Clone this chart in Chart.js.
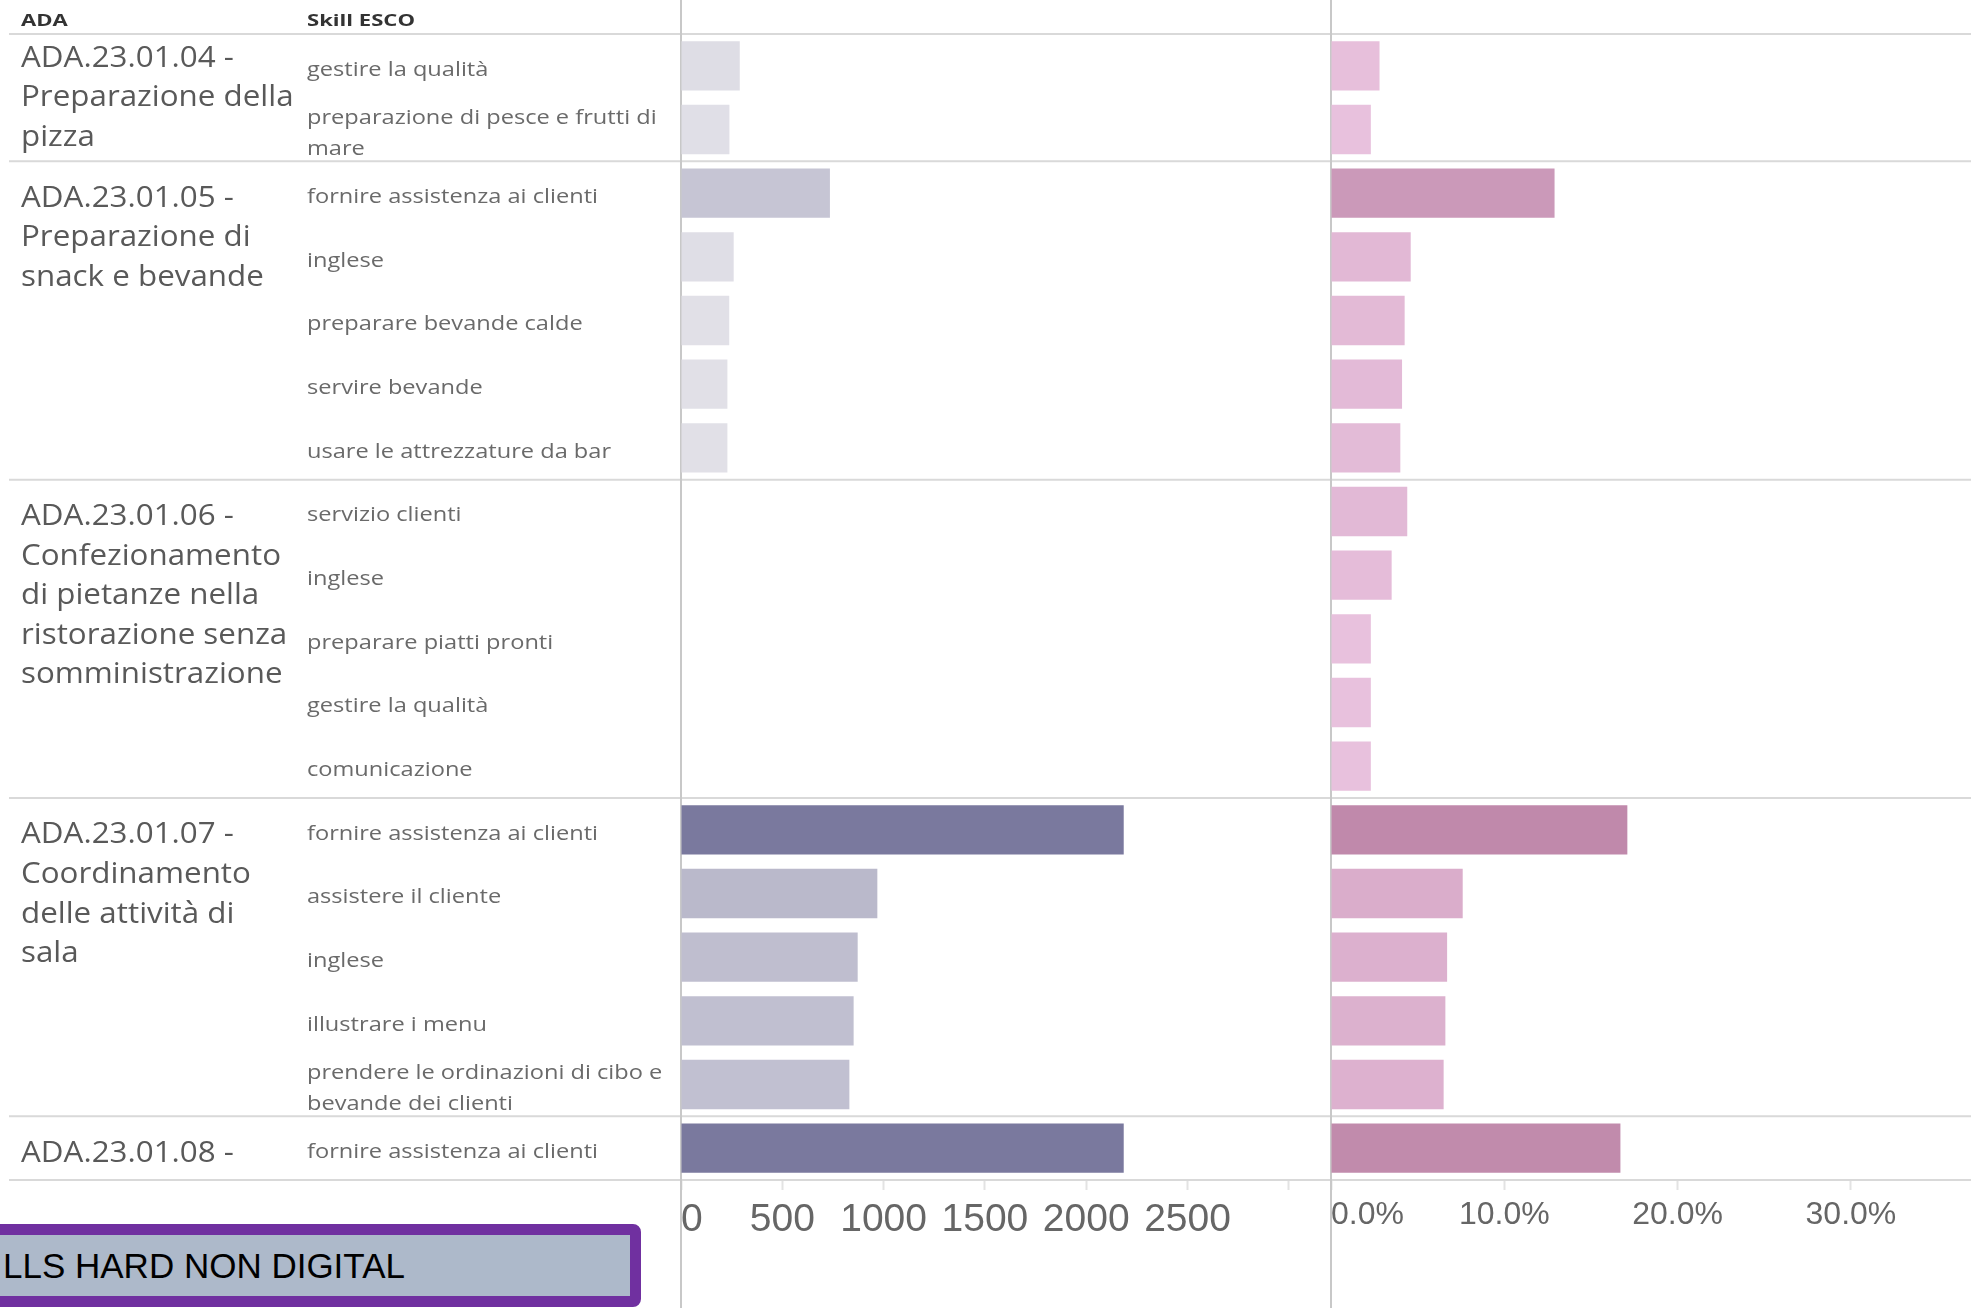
<!DOCTYPE html>
<html>
<head>
<meta charset="utf-8">
<script src="https://cdn.jsdelivr.net/npm/chart.js@4.4.1/dist/chart.umd.min.js"></script>
<style>
html, body { margin: 0; padding: 0; background: #fff; overflow: hidden; }
#wrap { position: relative; width: 1971px; height: 1308px; }
#skillsChart { position: absolute; left: 0; top: 0; }
.tag {
    position: absolute; left: -20px; top: 1224px; width: 661px; height: 83px;
    box-sizing: border-box; border: 11px solid #7030a0; border-radius: 8px;
    background: #adb9ca; color: #000; white-space: nowrap;
    font: 35px "Liberation Sans", Arial, sans-serif; line-height: 61px; padding-left: 12px;
}
</style>
</head>
<body>
<div id="wrap">
    <canvas id="skillsChart" width="1971" height="1308"></canvas>
    <div class="tag">LLS HARD NON DIGITAL</div>
</div>
<script>

// ADA groups (text lines as in the table) and how many skill rows each one has
const adaGroups = [
    ['ADA.23.01.04 -', 'Preparazione della', 'pizza'],
    ['ADA.23.01.05 -', 'Preparazione di', 'snack e bevande'],
    ['ADA.23.01.06 -', 'Confezionamento', 'di pietanze nella', 'ristorazione senza', 'somministrazione'],
    ['ADA.23.01.07 -', 'Coordinamento', 'delle attività di', 'sala'],
    ['ADA.23.01.08 -']
]
const adaRowCounts = [2, 5, 5, 5, 1]

const skills = [
    'gestire la qualità',
    'preparazione di pesce e frutti di\nmare',
    'fornire assistenza ai clienti',
    'inglese',
    'preparare bevande calde',
    'servire bevande',
    'usare le attrezzature da bar',
    'servizio clienti',
    'inglese',
    'preparare piatti pronti',
    'gestire la qualità',
    'comunicazione',
    'fornire assistenza ai clienti',
    'assistere il cliente',
    'inglese',
    'illustrare i menu',
    'prendere le ordinazioni di cibo e\nbevande dei clienti',
    'fornire assistenza ai clienti'
]

// left pane: number of ads, right pane: share in %
const skillCounts = [290, 239, 735, 260, 238, 229, 229, null, null, null, null, null, 2185, 969, 872, 852, 831, 2185]
const skillShares = [2.8, 2.3, 12.9, 4.6, 4.25, 4.1, 4.0, 4.4, 3.5, 2.3, 2.3, 2.3, 17.1, 7.6, 6.7, 6.6, 6.5, 16.7]

const countTicks = [0, 500, 1000, 1500, 2000, 2500, 3000]
const countTickLabels = ['0', '500', '1000', '1500', '2000', '2500', '']
const shareTicks = [0, 10, 20, 30]
const shareTickLabels = ['0.0%', '10.0%', '20.0%', '30.0%']

const countMax = 3208
const shareMax = 36.93


// colour ramp by value \\
function shade(values, light, dark) {
    const vals = values.filter(v => v != null);
    const lo = Math.min(...vals);
    const hi = Math.max(...vals);
    return values.map(v => {
        if (v == null) return 'rgba(0,0,0,0)';
        const t = (v - lo) / (hi - lo);
        return 'rgb(' + light.map((c, i) => Math.round(c + (dark[i] - c) * t)).join(',') + ')';
    });
}

function groupBounds(y) {
    const half = (y.getPixelForValue(1) - y.getPixelForValue(0)) / 2;
    const out = [y.getPixelForValue(0) - half];
    let idx = 0;
    adaRowCounts.forEach(n => {
        idx += n;
        out.push(y.getPixelForValue(idx - 1) + half);
    });
    return out;
}

function stretchText(ctx, text, x, y, sx) {
    ctx.save();
    ctx.translate(x, y);
    ctx.scale(sx, 1);
    ctx.fillText(text, 0, 0);
    ctx.restore();
}


// table lines + text \\
const tablePlugin = {
    id: 'table',
    beforeDatasetsDraw(chart) {
        const ctx = chart.ctx;
        const bounds = groupBounds(chart.scales.y);
        ctx.save();
        ctx.lineWidth = 2;
        ctx.strokeStyle = '#d9d9d9';
        bounds.forEach(b => {
            ctx.beginPath();
            ctx.moveTo(9, b);
            ctx.lineTo(chart.width, b);
            ctx.stroke();
        });
        ctx.strokeStyle = '#c8c8c8';
        [chart.scales.x, chart.scales.x2].forEach(s => {
            const px = s.getPixelForValue(0);
            ctx.beginPath();
            ctx.moveTo(px, 0);
            ctx.lineTo(px, chart.height);
            ctx.stroke();
        });
        ctx.restore();
    },
    afterDraw(chart) {
        const ctx = chart.ctx;
        const y = chart.scales.y;
        const bounds = groupBounds(y);
        const rowH = y.getPixelForValue(1) - y.getPixelForValue(0);
        ctx.save();
        ctx.textBaseline = 'middle';
        ctx.textAlign = 'left';

        ctx.fillStyle = '#333';
        ctx.font = 'bold 16px "Open Sans"';
        stretchText(ctx, 'ADA', 21, 21.5, 1.38);
        stretchText(ctx, 'Skill ESCO', 307, 21.5, 1.38);

        ctx.fillStyle = '#595959';
        ctx.font = '30px "Open Sans"';
        const lh = 39.6;
        adaGroups.forEach((lines, g) => {
            const top = bounds[g];
            const bottom = bounds[g + 1];
            let first = top + rowH / 2 + 5;
            if (first + (lines.length - 0.5) * lh > bottom - 4) {
                first = top + (bottom - top - (lines.length - 1) * lh) / 2;
            }
            lines.forEach((t, k) => stretchText(ctx, t, 21, first + k * lh, 1.045));
        });

        ctx.fillStyle = '#6a6a6a';
        ctx.font = '20px "Open Sans"';
        skills.forEach((s, i) => {
            const lines = s.split('\n');
            const yc = y.getPixelForValue(i) + 4;
            lines.forEach((t, k) => stretchText(ctx, t, 307, yc + (k - (lines.length - 1) / 2) * 31, 1.18));
        });
        ctx.restore();
    }
};


//=========== Chart ============\\

const tickFont = (size, lh) => ({ family: '"Liberation Sans", Arial, sans-serif', size: size, lineHeight: lh });

new Chart(document.getElementById('skillsChart'), {
    type: 'bar',
    data: {
        labels: skills,
        datasets: [{
            label: 'Annunci',
            data: skillCounts,
            xAxisID: 'x',
            backgroundColor: shade(skillCounts, [225, 224, 231], [122, 121, 158]),
        }, {
            label: '% annunci',
            data: skillShares,
            xAxisID: 'x2',
            backgroundColor: shade(skillShares, [232, 193, 221], [192, 137, 171]),
        }]
    },
    options: {
        indexAxis: 'y',
        responsive: false,
        animation: false,
        devicePixelRatio: 1,
        layout: { padding: { left: 681, top: 34, right: 0, bottom: 0 } },
        datasets: { bar: { grouped: false, barPercentage: 0.776, categoryPercentage: 1, borderWidth: 0 } },
        plugins: { legend: { display: false }, tooltip: { enabled: false } },
        scales: {
            y: { type: 'category', display: false, offset: true },
            x: {
                type: 'linear', position: 'bottom', stack: 'panes', stackWeight: 650,
                min: 0, max: countMax,
                afterBuildTicks: s => { s.ticks = countTicks.map(v => ({ value: v })); },
                afterFit: s => { s.height = 128; },
                border: { display: false },
                grid: { drawOnChartArea: false, drawTicks: true, tickLength: 10, tickWidth: 2, tickColor: '#e3e3e3' },
                ticks: {
                    autoSkip: false, maxRotation: 0, minRotation: 0, align: 'inner', padding: 0,
                    color: '#666', font: tickFont(39, '60px'),
                    callback: (v, i) => countTickLabels[i] || ''
                }
            },
            x2: {
                type: 'linear', position: 'bottom', stack: 'panes', stackWeight: 640,
                min: 0, max: shareMax,
                afterBuildTicks: s => { s.ticks = shareTicks.map(v => ({ value: v })).concat([{ value: s.max }]); },
                afterFit: s => { s.height = 128; },
                border: { display: false },
                grid: {
                    drawOnChartArea: false, drawTicks: true, tickLength: 10, tickWidth: 2,
                    tickColor: c => (c.index >= shareTicks.length ? 'rgba(0,0,0,0)' : '#e3e3e3')
                },
                ticks: {
                    autoSkip: false, maxRotation: 0, minRotation: 0, align: 'inner', padding: 0,
                    color: '#666', font: tickFont(32, '50px'),
                    callback: (v, i) => shareTickLabels[i] || ''
                }
            }
        }
    },
    plugins: [tablePlugin]
});
</script>
</body>
</html>
